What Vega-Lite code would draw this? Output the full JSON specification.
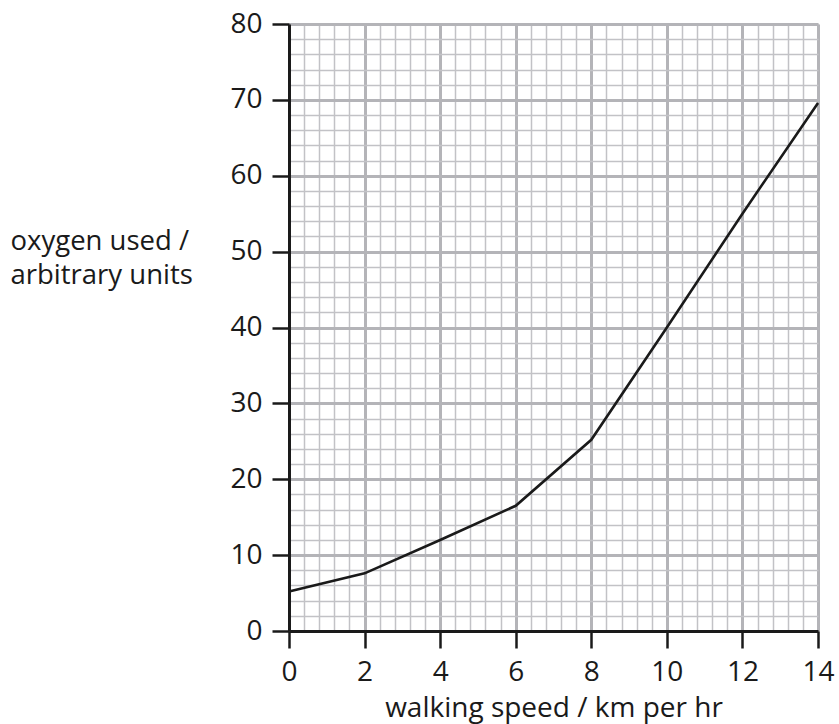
{
  "$schema": "https://vega.github.io/schema/vega-lite/v6.json",
  "autosize": "none",
  "width": 529,
  "height": 607,
  "padding": {"left": 289, "top": 24, "right": 21, "bottom": 93},
  "background": "white",
  "config": {"view": {"stroke": null}, "font": "Open Sans"},
  "data": {"values": [
    {"speed": 0, "oxygen": 5.2},
    {"speed": 2, "oxygen": 7.6},
    {"speed": 4, "oxygen": 12.0},
    {"speed": 6, "oxygen": 16.5},
    {"speed": 8, "oxygen": 25.2},
    {"speed": 10, "oxygen": 40.0},
    {"speed": 12, "oxygen": 55.0},
    {"speed": 14, "oxygen": 69.6}
  ]},
  "resolve": {"axis": {"x": "independent", "y": "independent"}},
  "layer": [
    {
      "mark": {"type": "line", "strokeOpacity": 0},
      "encoding": {
        "x": {"field": "speed", "type": "quantitative", "scale": {"domain": [0, 14], "nice": false},
          "axis": {"orient": "bottom", "grid": true, "gridColor": "#c2c2c6", "gridWidth": 1.5, "labels": false, "ticks": false, "domain": false, "title": null,
            "values": [0,0.4,0.8,1.2,1.6,2,2.4,2.8,3.2,3.6,4,4.4,4.8,5.2,5.6,6,6.4,6.8,7.2,7.6,8,8.4,8.8,9.2,9.6,10,10.4,10.8,11.2,11.6,12,12.4,12.8,13.2,13.6,14]}},
        "y": {"field": "oxygen", "type": "quantitative", "scale": {"domain": [0, 80], "nice": false},
          "axis": {"orient": "left", "grid": true, "gridColor": "#c2c2c6", "gridWidth": 1.5, "labels": false, "ticks": false, "domain": false, "title": null,
            "values": [0,2,4,6,8,10,12,14,16,18,20,22,24,26,28,30,32,34,36,38,40,42,44,46,48,50,52,54,56,58,60,62,64,66,68,70,72,74,76,78,80]}}
      }
    },
    {
      "mark": {"type": "line", "strokeOpacity": 0},
      "encoding": {
        "x": {"field": "speed", "type": "quantitative", "scale": {"domain": [0, 14], "nice": false},
          "axis": {"orient": "bottom", "grid": true, "gridColor": "#b4b4b8", "gridWidth": 3, "labels": false, "ticks": false, "domain": false, "title": null,
            "values": [0,2,4,6,8,10,12,14]}},
        "y": {"field": "oxygen", "type": "quantitative", "scale": {"domain": [0, 80], "nice": false},
          "axis": {"orient": "left", "grid": true, "gridColor": "#b4b4b8", "gridWidth": 3, "labels": false, "ticks": false, "domain": false, "title": null,
            "values": [0,10,20,30,40,50,60,70,80]}}
      }
    },
    {
      "mark": {"type": "line", "color": "#1a1a1a", "strokeWidth": 2.6},
      "encoding": {
        "x": {"field": "speed", "type": "quantitative", "scale": {"domain": [0, 14], "nice": false},
          "axis": {"orient": "bottom", "grid": false, "zindex": 1, "values": [0,2,4,6,8,10,12,14],
            "domainColor": "#1a1a1a", "domainWidth": 3, "tickColor": "#1a1a1a", "tickWidth": 2.5, "tickSize": 17,
            "labelFontSize": 28, "labelColor": "#1a1a1a", "labelFlush": false, "labelBaseline": "alphabetic", "labelPadding": 32,
            "title": "walking speed / km per hr", "titleFontSize": 28, "titleFontWeight": "normal", "titleColor": "#1a1a1a",
            "titleBaseline": "alphabetic", "titleY": 85}},
        "y": {"field": "oxygen", "type": "quantitative", "scale": {"domain": [0, 80], "nice": false},
          "axis": {"orient": "left", "grid": false, "zindex": 1, "values": [0,10,20,30,40,50,60,70,80],
            "domainColor": "#1a1a1a", "domainWidth": 3, "tickColor": "#1a1a1a", "tickWidth": 2.5, "tickSize": 17,
            "labelFontSize": 28, "labelColor": "#1a1a1a", "labelFlush": false, "labelPadding": 10,
            "title": ["oxygen used /", "arbitrary units"], "titleFontSize": 27.5, "titleFontWeight": "normal", "titleColor": "#1a1a1a",
            "titleAngle": 0, "titleAlign": "left", "titleBaseline": "alphabetic", "titleX": -279, "titleY": 225, "titleLineHeight": 34}}
      }
    }
  ]
}
